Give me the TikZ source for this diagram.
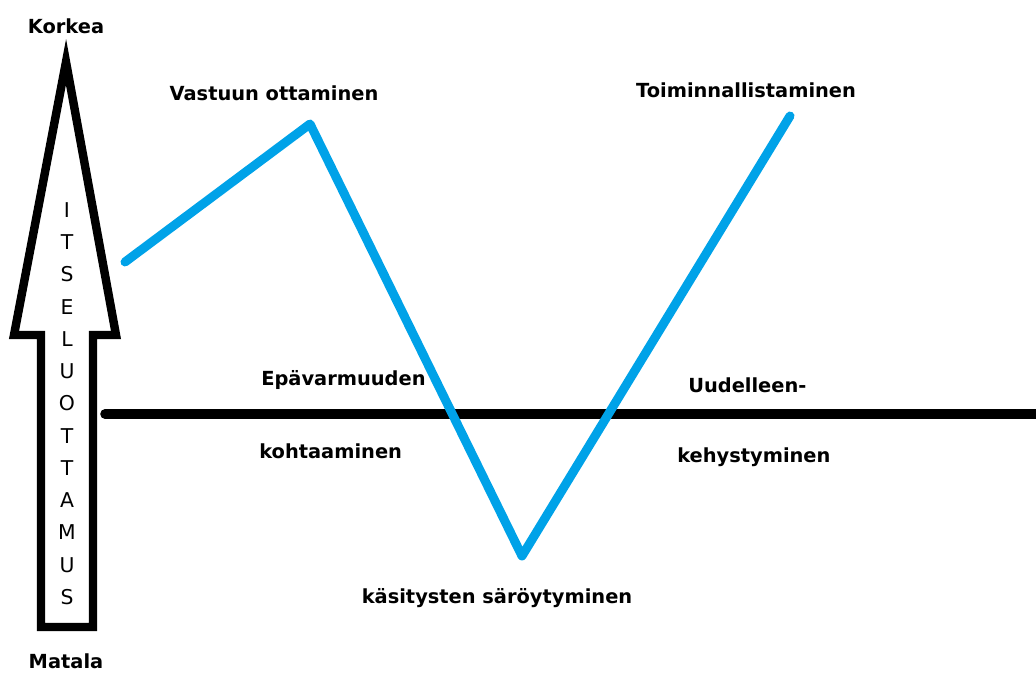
\documentclass[tikz,border=0pt]{standalone}
\usepackage{fontspec}
\setmainfont{DejaVu Sans}
\usepackage{xcolor}
\usepackage{tikz}
\definecolor{paintblue}{HTML}{00A2E8}
\definecolor{ink}{HTML}{000000}

\begin{document}
\begin{tikzpicture}[x=0.025cm, y=-0.025cm,
    tag/.style={font=\fontsize{13.8}{16}\selectfont\bfseries, text=ink, inner sep=0pt},
    letter/.style={font=\fontsize{14.5}{16}\selectfont, text=ink, inner sep=0pt},
    outline/.style={ink, line width=6pt, line join=miter},
    curveline/.style={paintblue, line width=6.4pt, line cap=round, line join=round}]
  \useasboundingbox (0,0) rectangle (1036,674);
  % arrow
  \draw[outline] (66,62) -- (14,335) -- (41,335) -- (41,627) -- (93,627) -- (93,335) -- (116,335) -- cycle;
  \foreach \ch [count=\i from 0] in {I,T,S,E,L,U,O,T,T,A,M,U,S}
    \node[letter] (l\i) at (67,210+32.25*\i) {\ch};
  \node[tag] (korkea) at (66,26) {Korkea};
  \node[tag] (matala) at (66,661) {Matala};
  % axis
  \coordinate (h0) at (105,414);
  \coordinate (h1) at (1045,414);
  \draw[ink, line width=6.8pt, line cap=round] (h0) -- (h1);
  % curve
  \coordinate (b0) at (125,262);
  \coordinate (b1) at (310,124);
  \coordinate (b2) at (522,556);
  \coordinate (b3) at (790,116);
  \draw[curveline] (b0) -- (b1) -- (b2) -- (b3);
  \node[tag] (vastuu) at (274,93) {Vastuun ottaminen};
  \node[tag] (toiminta) at (746,90) {Toiminnallistaminen};
  \node[tag, anchor=west] (epavarmuus) at (261,380) {Epävarmuuden};
  \node[tag, anchor=west] (kohtaaminen) at (259,451) {kohtaaminen};
  \node[tag, anchor=west] (uudelleen) at (688,385) {Uudelleen-};
  \node[tag, anchor=west] (kehystyminen) at (677,457) {kehystyminen};
  \node[tag] (sarot) at (497,598) {käsitysten säröytyminen};
\end{tikzpicture}
\end{document}
